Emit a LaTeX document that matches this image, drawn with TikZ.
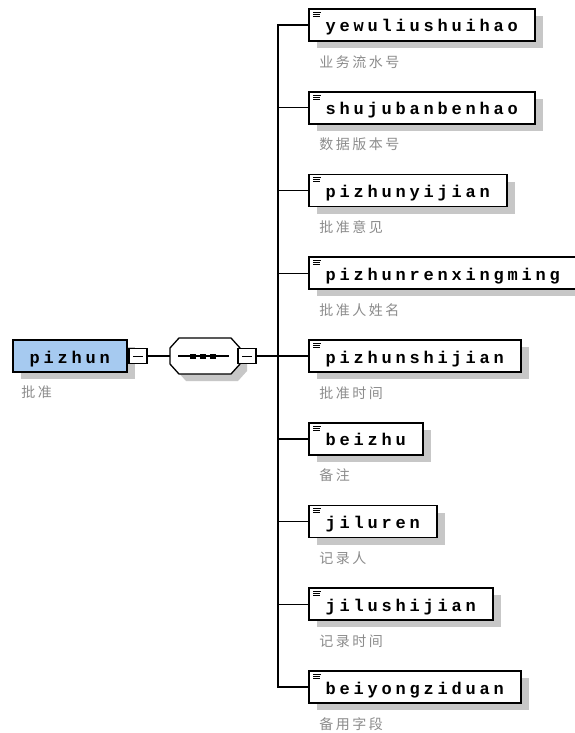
\documentclass[tikz,border=0pt]{standalone}
\usepackage{fontspec}
\newfontfamily\boxfont{Liberation Mono}
\newfontfamily\cjk{Noto Sans CJK SC}
\usetikzlibrary{shadows,calc}
\ExplSyntaxOn
\NewDocumentCommand\spc{mm}{\tl_set:Nx \l_tmpa_tl {#2}\tl_map_inline:Nn \l_tmpa_tl {\makebox[#1][c]{##1}}}
\ExplSyntaxOff
\definecolor{labgray}{HTML}{8C8C8C}
\definecolor{mainblue}{HTML}{A6CAF0}
\begin{document}
\begin{tikzpicture}[x=1pt,y=-1pt,
  shad/.style={drop shadow={shadow xshift=8pt,shadow yshift=-7pt,fill=black!22,opacity=1}},
  elem/.style={draw=black, line width=1.6pt, fill=white, inner xsep=15pt, inner ysep=0pt,
    text height=23pt, text depth=9pt, anchor=west, shad,
    font=\boxfont\bfseries\fontsize{17pt}{17pt}\selectfont},
  mainel/.style={elem, fill=mainblue},
  lab/.style={anchor=west, inner sep=0pt, text=labgray, font=\cjk\fontsize{14pt}{14pt}\selectfont},
  minusbox/.style={draw=black, fill=white, line width=1.3pt, minimum width=18pt, minimum height=15pt, inner sep=0pt},
  conn/.style={line width=1.5pt, black},
  iconline/.style={line width=0.8pt, black}]
\useasboundingbox (0,0) rectangle (575,733);
\fill[white] (0,0) rectangle (575,733);

% main element
\node[mainel] (main) at (12,356) {\spc{14pt}{pizhun}\hspace{9pt}};
\node[lab] (mainlab) at (20,392) {\spc{16.5pt}{批准}};

% sequence compositor
\node[minimum width=70pt, minimum height=36pt, inner sep=0pt] (seq) at (205,356) {};
\fill[black!22] (186,345) -- (238,345) -- (247,355) -- (247,371) -- (238,381) -- (186,381) -- (177,371) -- (177,355) -- cycle;
\draw[line width=1.3pt, fill=white] (179,338) -- (231,338) -- (240,348) -- (240,364) -- (231,374) -- (179,374) -- (170,364) -- (170,348) -- cycle;
\draw[line width=1.2pt] (178,356) -- (229,356);
\foreach \cx in {193,203,213} \fill (\cx-3,353.5) rectangle (\cx+3,358.5);

\node[minusbox] (m1) at (138,356) {};
\draw[line width=1pt] ([xshift=-5pt]m1.center) -- ([xshift=5pt]m1.center);
\node[minusbox] (m2) at (247,356) {};
\draw[line width=1pt] ([xshift=-5pt]m2.center) -- ([xshift=5pt]m2.center);

\draw[conn] (m1.east) -- (seq.west);
\coordinate (trunk) at (278,0);

% children
\foreach \i/\w/\l in {1/yewuliushuihao/业务流水号, 2/shujubanbenhao/数据版本号, 3/pizhunyijian/批准意见,
  4/pizhunrenxingming/批准人姓名, 5/pizhunshijian/批准时间, 6/beizhu/备注, 7/jiluren/记录人,
  8/jilushijian/记录时间, 9/beiyongziduan/备用字段}{
  \pgfmathsetmacro\cy{9+82.75*(\i-1)+16}
  \node[elem] (e\i) at (308,\cy) {\spc{14pt}{\w}\hspace{2pt}};
  \node[lab] (l\i) at ($(e\i.south west)+(10,20)$) {\spc{16.5pt}{\l}};
  \draw[iconline] ($(e\i.north west)+(5,4)$) -- ++(8,0);
  \draw[iconline] ($(e\i.north west)+(5,6)$) -- ++(7,0);
  \draw[iconline] ($(e\i.north west)+(5,8)$) -- ++(7,0);
}
\draw[conn] (m2.east) -- (m2.east -| trunk);
\draw[conn] (e1.west) -- (e1.west -| trunk) -- (e9.west -| trunk) -- (e9.west);
\foreach \i in {2,...,8} \draw[conn] (e\i.west) -- (e\i.west -| trunk);
\end{tikzpicture}
\end{document}
